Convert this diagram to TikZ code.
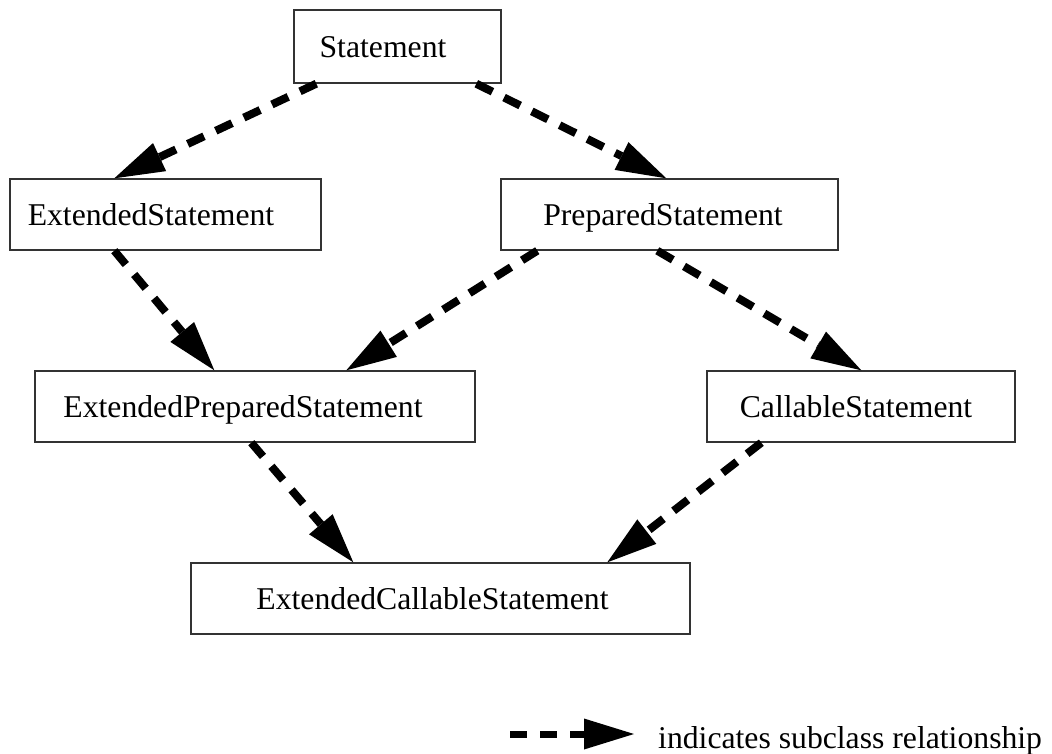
\documentclass[tikz,border=0pt]{standalone}
\usepackage{fontspec}
\setmainfont{Liberation Serif}
\usetikzlibrary{arrows.meta}
\begin{document}
\begin{tikzpicture}[x=1pt,y=-1pt,
  cls/.style={draw=black!80, line width=1.4pt, rectangle, inner sep=0pt,
    font=\fontsize{31.7}{38}\selectfont, text height=21pt, text depth=0pt},
  sub/.style={line width=8pt, dash pattern=on 18pt off 13pt,
    -{Triangle[length=50pt,width=31pt,line width=0pt]}}]
\useasboundingbox (0,0) rectangle (1052,753);
\node[cls, minimum width=207pt, minimum height=73pt] (st) at (397.5,46.5) {Statement\kern29pt\relax};
\node[cls, minimum width=311pt, minimum height=71pt] (es) at (165.5,214.5) {ExtendedStatement\kern29pt\relax};
\node[cls, minimum width=337pt, minimum height=71pt] (ps) at (669.5,214.5) {PreparedStatement\kern13pt\relax};
\node[cls, minimum width=440pt, minimum height=71pt] (eps) at (255,406.5) {ExtendedPreparedStatement\kern24pt\relax};
\node[cls, minimum width=308pt, minimum height=71pt] (cs) at (861,406.5) {CallableStatement\kern10pt\relax};
\node[cls, minimum width=499pt, minimum height=71pt] (ecs) at (440.5,598.5) {ExtendedCallableStatement\kern16pt\relax};
\draw[sub] ([xshift=23pt]st.south west) -- ([xshift=105pt]es.north west);
\draw[sub] ([xshift=183pt]st.south west) -- ([xshift=166pt]ps.north west);
\draw[sub] ([xshift=105pt]es.south west) -- ([xshift=180pt]eps.north west);
\draw[sub] ([xshift=37pt]ps.south west) -- ([xshift=312pt]eps.north west);
\draw[sub] ([xshift=157pt]ps.south west) -- ([xshift=155pt]cs.north west);
\draw[sub] ([xshift=217pt]eps.south west) -- ([xshift=163pt]ecs.north west);
\draw[sub] ([xshift=55pt]cs.south west) -- ([xshift=417pt]ecs.north west);
\coordinate (l1) at (510,734);
\coordinate (l2) at (634,734);
\draw[sub, line width=7pt, dash pattern=on 17pt off 13pt] (l1) -- (l2);
\node[anchor=base west, inner sep=0pt, font=\fontsize{31.7}{38}\selectfont] (leg) at (658,748) {indicates subclass relationship};
\end{tikzpicture}
\end{document}
